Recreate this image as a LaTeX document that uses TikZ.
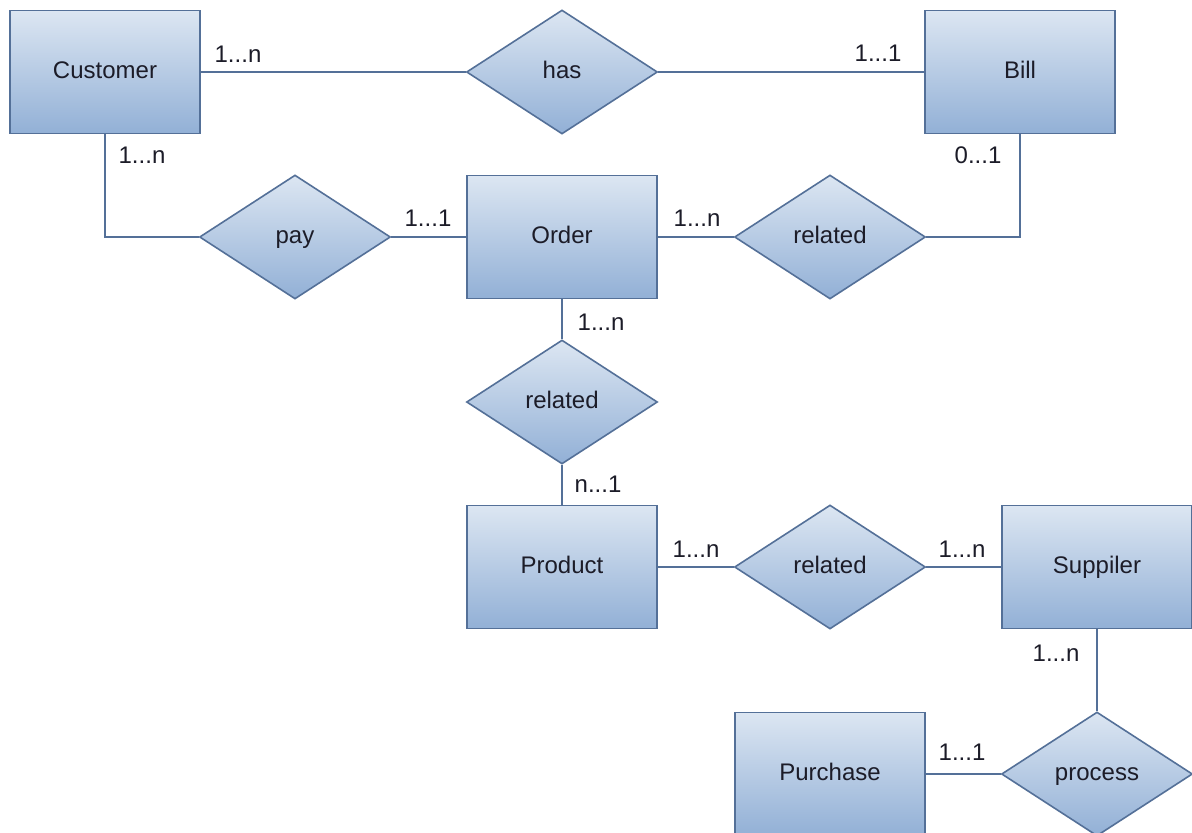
\documentclass[tikz,border=0pt]{standalone}
\usepackage{fontspec}
\setmainfont{Liberation Sans}
\usetikzlibrary{shapes.geometric}
\definecolor{edgeblue}{RGB}{84,112,152}
\definecolor{topfill}{RGB}{220,230,242}
\definecolor{botfill}{RGB}{146,176,214}
\definecolor{txt}{RGB}{28,28,40}
\tikzset{
  entity/.style={draw=edgeblue, line width=1.6pt, top color=topfill, bottom color=botfill,
    minimum width=190pt, minimum height=123pt, inner sep=0pt, text=txt,
    text height=17.5pt, text depth=5pt,
    font=\fontsize{24}{28}\selectfont},
  relation/.style={diamond, draw=edgeblue, line width=1.6pt, top color=topfill, bottom color=botfill,
    minimum width=191pt, minimum height=124pt, inner sep=0pt, aspect=1.55, text=txt,
    text height=17.5pt, text depth=5pt,
    font=\fontsize{24}{28}\selectfont},
  conn/.style={draw=edgeblue, line width=1.6pt},
  card/.style={text=txt, inner sep=0pt, font=\fontsize{24}{28}\selectfont}
}
\begin{document}
\begin{tikzpicture}[x=1pt,y=-1pt]
\useasboundingbox (0,0) rectangle (1192,833);
\clip (0,0) rectangle (1192,833);
\fill[white] (0,0) rectangle (1192,833);
% entities
\node[entity] (cust) at (105,72) {Customer};
\node[entity] (bill) at (1020,72) {Bill};
\node[entity] (order) at (562,237) {Order};
\node[entity] (prod) at (562,567) {Product};
\node[entity] (supp) at (1097,567) {Suppiler};
\node[entity] (purch) at (830,774) {Purchase};
% relationships
\node[relation] (has) at (562,72) {has};
\node[relation] (pay) at (295,237) {pay};
\node[relation] (relob) at (830,237) {related};
\node[relation] (relop) at (562,402) {related};
\node[relation] (relps) at (830,567) {related};
\node[relation] (proc) at (1097,774) {process};
% connectors
\draw[conn] (cust.east) -- (has.west);
\draw[conn] (has.east) -- (bill.west);
\draw[conn] (cust.south) |- (pay.west);
\draw[conn] (pay.east) -- (order.west);
\draw[conn] (order.east) -- (relob.west);
\draw[conn] (relob.east) -| (bill.south);
\draw[conn] (order.south) -- (relop.north);
\draw[conn] (relop.south) -- (prod.north);
\draw[conn] (prod.east) -- (relps.west);
\draw[conn] (relps.east) -- (supp.west);
\draw[conn] (supp.south) -- (proc.north);
\draw[conn] (purch.east) -- (proc.west);
% cardinalities
\node[card] (c1) at (238,54) {1...n};
\node[card] (c2) at (878,53) {1...1};
\node[card] (c3) at (142,155) {1...n};
\node[card] (c4) at (428,218) {1...1};
\node[card] (c5) at (697,218) {1...n};
\node[card] (c6) at (978,155) {0...1};
\node[card] (c7) at (601,322) {1...n};
\node[card] (c8) at (598,484) {n...1};
\node[card] (c9) at (696,549) {1...n};
\node[card] (c10) at (962,549) {1...n};
\node[card] (c11) at (1056,653) {1...n};
\node[card] (c12) at (962,752) {1...1};
\end{tikzpicture}
\end{document}
